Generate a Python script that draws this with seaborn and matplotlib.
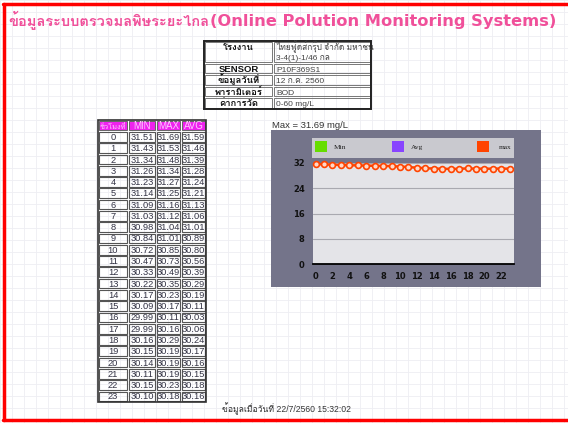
import pandas as pd
import seaborn as sns
import matplotlib.pyplot as plt
from matplotlib import font_manager
from matplotlib.ft2font import FT2Font
from matplotlib.patches import Rectangle

# =========================
# DATA
# =========================

hours = list(range(24))
min_vals = [31.51, 31.43, 31.34, 31.26, 31.23, 31.14, 31.09, 31.03, 30.98, 30.84, 30.72, 30.47,
            30.33, 30.22, 30.17, 30.09, 29.99, 29.99, 30.16, 30.15, 30.14, 30.11, 30.15, 30.10]
max_vals = [31.69, 31.53, 31.48, 31.34, 31.27, 31.25, 31.16, 31.12, 31.04, 31.01, 30.85, 30.73,
            30.49, 30.35, 30.23, 30.17, 30.11, 30.16, 30.29, 30.19, 30.19, 30.19, 30.23, 30.18]
avg_vals = [31.59, 31.46, 31.39, 31.28, 31.24, 31.21, 31.13, 31.06, 31.01, 30.89, 30.80, 30.56,
            30.39, 30.29, 30.19, 30.11, 30.03, 30.06, 30.24, 30.17, 30.16, 30.15, 30.18, 30.16]

info_labels = ["โรงงาน", "SENSOR", "ข้อมูลวันที่", "พารามิเตอร์", "ค่าการวัด"]
info_values = ["ไทยฟู้ดส์กรุ๊ป จำกัด มหาชน", "P10F369S1", "12 ก.ค. 2560", "BOD", "0-60 mg/L"]
info_value_2 = "3-4(1)-1/46 กล"
table_header = ["ชั่วโมงที่", "MIN", "MAX", "AVG"]
legend_names = ["Min", "Avg", "max"]

title_th = "ข้อมูลระบบตรวจมลพิษระยะไกล"
title_en = "(Online Polution Monitoring Systems)"
max_text = "Max = 31.69 mg/L"
footer = "ข้อมูลเมื่อวันที่ 22/7/2560 15:32:02"

# =========================
# FONT WITH THAI GLYPHS
# =========================

thai_font = None
for f in font_manager.fontManager.ttflist:
    try:
        if 0x0E01 in FT2Font(f.fname).get_charmap():
            thai_font = f.name
            break
    except Exception:
        pass

sns.set_style("white")
fam = ["DejaVu Sans"] + ([thai_font] if thai_font else [])
fam_l = ["Liberation Sans"] + ([thai_font] if thai_font else [])
plt.rcParams["font.family"] = fam

fig = plt.figure(figsize=(5.68, 4.23), dpi=100)
bg = fig.add_axes([0, 0, 1, 1])
bg.set_xlim(0, 568)
bg.set_ylim(423, 0)
bg.axis("off")

# graph paper background
for g in range(0, 569, 12):
    bg.plot([g, g], [0, 423], color="#eeeef3", lw=0.6, zorder=0)
for g in range(0, 424, 12):
    bg.plot([0, 568], [g, g], color="#eeeef3", lw=0.6, zorder=0)

# red frame
bg.plot([3.5, 3.5], [4, 420], color="#ff0000", lw=2.5)
bg.plot([3, 568], [4, 4], color="#ff0000", lw=2.5)
bg.plot([3, 568], [420, 420], color="#ff0000", lw=2.5)

bg.text(8, 26, title_th, color="#f0509a", fontsize=10.5, fontweight="bold", va="baseline", ha="left")
bg.text(210, 26, title_en, color="#f0509a", fontsize=11.7, fontweight="bold", va="baseline", ha="left")

# =========================
# INFO TABLE
# =========================

row_edges = [41, 63, 74.5, 86, 97.5, 109]
x0, xs, x1 = 204, 273, 371
for i in range(len(info_labels)):
    ya, yb = row_edges[i], row_edges[i + 1]
    bg.add_patch(Rectangle((x0 + 1, ya + 1), xs - x0 - 2, yb - ya - 2, fill=False, ec="#777777", lw=0.7))
    bg.add_patch(Rectangle((xs + 1, ya + 1), x1 - xs - 2, yb - ya - 2, fill=False, ec="#777777", lw=0.7))
    base = yb - 2.8 if i > 0 else ya + 9.5
    bg.text((x0 + xs) / 2, base, info_labels[i], ha="center", va="baseline", fontsize=6.8,
            fontweight="bold", family=fam_l, color="#111111")
    bg.text(xs + 3, base, info_values[i], ha="left", va="baseline", fontsize=6.0,
            family=fam_l, color="#444444")
bg.text(xs + 3, 59.5, info_value_2, ha="left", va="baseline", fontsize=6.0, family=fam_l, color="#444444")
bg.add_patch(Rectangle((x0, 41), x1 - x0, 109 - 41, fill=False, ec="#222222", lw=1.4))

# =========================
# HOURLY TABLE
# =========================

col_edges = [98, 128, 156, 181, 206]
top, rh = 120, 11.28
for j, h in enumerate(table_header):
    bg.add_patch(Rectangle((col_edges[j] + 0.8, top + 0.8), col_edges[j + 1] - col_edges[j] - 1.6, rh - 1.6,
                           fc="#ee22ee", ec="#666666", lw=0.7))
    bg.text((col_edges[j] + col_edges[j + 1]) / 2, top + rh - 2.6, h, ha="center",
            va="baseline", fontsize=7.0 if j else 5.3, family=fam_l, color="#ffc8ff")
for i, hr in enumerate(hours):
    ya = top + rh * (i + 1)
    cells = [str(hr), f"{min_vals[i]:.2f}", f"{max_vals[i]:.2f}", f"{avg_vals[i]:.2f}"]
    for j, c in enumerate(cells):
        bg.add_patch(Rectangle((col_edges[j] + 0.8, ya + 0.8), col_edges[j + 1] - col_edges[j] - 1.6, rh - 1.6,
                               fill=False, ec="#555555", lw=0.8))
        bg.text((col_edges[j] + col_edges[j + 1]) / 2, ya + rh - 2.6, c, ha="center", va="baseline",
                fontsize=6.7, family=fam_l, color="#333344")
bg.add_patch(Rectangle((col_edges[0], top), col_edges[-1] - col_edges[0], rh * 25, fill=False,
                       ec="#333333", lw=1.2))

# =========================
# CHART
# =========================

bg.text(272, 125, max_text, ha="left", va="center", fontsize=6.8, family=fam_l, color="#333333")
bg.add_patch(Rectangle((271, 130), 270, 157, fc="#74748a", ec="none"))
bg.add_patch(Rectangle((312, 138), 202, 20, fc="#c9c9cf", ec="none"))
leg_x = [315, 392, 477]
leg_c = ["#66dd00", "#8844ff", "#ff4400"]
for lx, lc, ln in zip(leg_x, leg_c, legend_names):
    bg.add_patch(Rectangle((lx, 141.5), 12, 11, fc=lc, ec="none"))
    bg.text(lx + 19 if ln != "max" else lx + 22, 147.5, ln, ha="left", va="center", fontsize=5.3,
            family="Liberation Serif", color="#222222")

df = pd.DataFrame({"hour": hours, "max": max_vals})

ax = fig.add_axes([313 / 568, 1 - 264 / 423, 201 / 568, 101 / 423])
ax.set_facecolor("#e4e4e8")
sns.lineplot(data=df, x="hour", y="max", ax=ax, color="#ff4400", lw=1.8, marker="o",
             markersize=4.2, markerfacecolor="#ffd8c8", markeredgecolor="#ff4400", markeredgewidth=1.2,
             clip_on=False)
ax.set_xlim(-0.3, 23.5)
ax.set_ylim(0, 32)
ax.set_yticks([0, 8, 16, 24, 32])
ax.set_xticks(range(0, 24, 2))
ax.set_xticks(range(24), minor=True)
ax.yaxis.grid(True, color="#a9a9b0", lw=0.8)
ax.set_axisbelow(True)
ax.set_xlabel("")
ax.set_ylabel("")
for s in ["top", "right", "left"]:
    ax.spines[s].set_visible(False)
ax.spines["bottom"].set_color("black")
ax.spines["bottom"].set_linewidth(1.3)
ax.tick_params(axis="x", which="both", direction="out", length=3, width=1, color="black",
               labelsize=6, pad=3)
ax.tick_params(axis="y", length=0, labelsize=6, pad=6)
for t in ax.get_xticklabels() + ax.get_yticklabels():
    t.set_fontweight("bold")
    t.set_color("#111111")

bg.text(287, 412, footer, ha="center", va="baseline", fontsize=6.2, family=fam_l, color="#333333")

plt.savefig("out.png", dpi=100)
